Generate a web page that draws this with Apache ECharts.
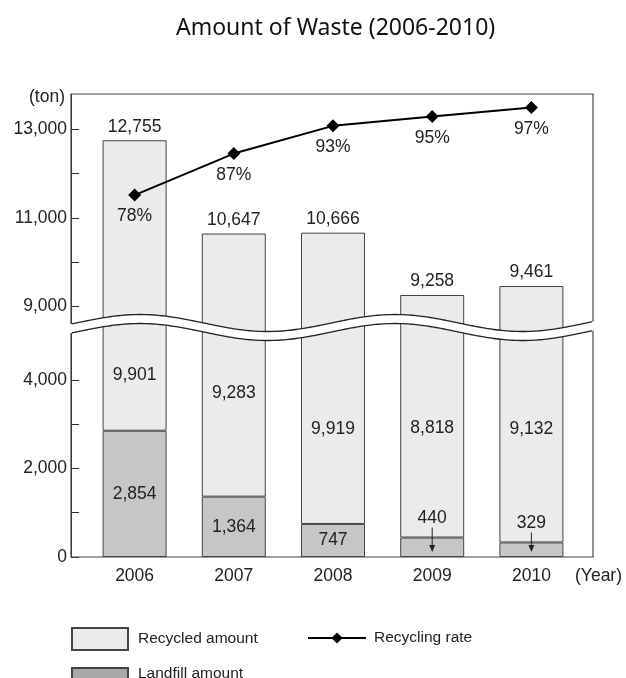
<!DOCTYPE html>
<html>
<head>
<meta charset="utf-8">
<script src="https://cdn.jsdelivr.net/npm/echarts@6/dist/echarts.min.js"></script>
<style>
html,body{margin:0;padding:0;background:#fff;}
#c{width:626px;height:678px;}
</style>
</head>
<body>
<div id="c"></div>
<script>
// ---------- data ----------
const years = ['2006', '2007', '2008', '2009', '2010'];
const recycledAmount = [9901, 9283, 9919, 8818, 9132];
const landfillAmount = [2854, 1364, 747, 440, 329];
const totalAmount = [12755, 10647, 10666, 9258, 9461];
const recyclingRate = [78, 87, 93, 95, 97];
const yTickValues = [0, 1000, 2000, 3000, 4000, 9000, 10000, 11000, 12000, 13000];
const yLabelValues = [0, 2000, 4000, 9000, 11000, 13000];

// ---------- layout / style ----------
const FONT = "'Liberation Sans', Arial, sans-serif";
const TXT = '#222';
const BREAK_START = 5186, BREAK_END = 8523;
const LANDFILL_INSIDE_MIN = 600;           // smaller landfill values get an outside label + arrow
const recycledLabelLift = [47, 94, 86, 100, 104];
const fmt = v => String(v).replace(/\B(?=(\d{3})+(?!\d))/g, ',');

const chart = echarts.init(document.getElementById('c'), null, {renderer: 'canvas', width: 626, height: 678});

const txt = (size) => ({fontFamily: FONT, fontSize: size, color: TXT, fontWeight: 'normal'});

const option = {
  animation: false,
  backgroundColor: '#fff',
  title: {
    text: 'Amount of Waste (2006-2010)',
    left: 176, top: 17, padding: 0,
    textStyle: {fontFamily: "'Noto Sans', sans-serif", fontSize: 23, fontWeight: 'normal', color: '#111'}
  },
  grid: {left: 85, right: 45, top: 94, bottom: 121, containLabel: false, outerBoundsMode: 'none'},
  legend: [
    {data: [{name: 'Recycled amount', icon: 'rect'}], left: 71, top: 627, padding: 0, itemWidth: 56, itemHeight: 22,
     selectedMode: false, textStyle: Object.assign({padding: [0, 0, 0, 5]}, txt(15.5))},
    {data: [{name: 'Landfill amount', icon: 'rect', itemStyle: {color: '#a9a9a9'}}], left: 71, top: 666, padding: 0,
     itemWidth: 56, itemHeight: 12, selectedMode: false,
     textStyle: Object.assign({padding: [0, 0, 6, 5]}, txt(15.5))},
    {data: ['Recycling rate'], left: 307, top: 630, padding: 0, itemWidth: 58, itemHeight: 14, selectedMode: false,
     textStyle: Object.assign({padding: [0, 0, 0, 3]}, txt(15.5))}
  ],
  xAxis: {
    type: 'category', data: years,
    axisLine: {show: false}, axisTick: {show: false},
    axisLabel: Object.assign({margin: 10}, txt(17.5)),
    name: '(Year)', nameLocation: 'end', nameGap: -6,
    nameTextStyle: Object.assign({verticalAlign: 'top', align: 'left', padding: [10, 0, 0, 0]}, txt(17.5))
  },
  yAxis: [
    {
      type: 'value', min: 0, max: 13800, offset: 14,
      breaks: [{start: BREAK_START, end: BREAK_END, gap: 0}],
      breakArea: {show: false, itemStyle: {opacity: 0, borderWidth: 0}},
      axisLine: {show: true, lineStyle: {color: '#333', width: 1}},
      axisTick: {show: true, inside: true, length: 8, customValues: yTickValues, lineStyle: {color: '#333'}},
      axisLabel: Object.assign({customValues: yLabelValues, margin: 4, formatter: v => fmt(v)}, txt(17.5)),
      splitLine: {show: false},
      name: '(ton)', nameLocation: 'end', nameGap: -3,
      nameTextStyle: Object.assign({align: 'right', verticalAlign: 'middle', padding: [0, 6, 0, 0]}, txt(17.5))
    },
    {type: 'value', min: -0.4, max: 99.9, show: false}
  ],
  series: [
    {
      name: 'Landfill amount', type: 'bar', stack: 'waste', barWidth: 64, z: 3,
      itemStyle: {color: '#c6c6c6', borderColor: '#444', borderWidth: 1},
      label: Object.assign({show: true, formatter: p => fmt(p.value)}, txt(17.5)),
      data: landfillAmount.map(v => ({
        value: v,
        label: v < LANDFILL_INSIDE_MIN ? {position: 'top', distance: 10} : {position: 'inside'}
      }))
    },
    {
      name: 'Recycled amount', type: 'bar', stack: 'waste', barWidth: 64, z: 2,
      itemStyle: {color: '#ebebeb', borderColor: '#444', borderWidth: 1},
      label: Object.assign({show: true, position: 'insideBottom', distance: 0, formatter: p => fmt(p.value)}, txt(17.5)),
      data: recycledAmount.map((v, i) => ({value: v, label: {offset: [0, -recycledLabelLift[i]]}}))
    },
    {
      name: 'Total', type: 'scatter', symbolSize: 1, z: 5,
      itemStyle: {color: 'rgba(0,0,0,0)', opacity: 1},
      label: Object.assign({show: true, position: 'top', distance: 4, formatter: p => fmt(p.value)}, txt(17.5)),
      data: totalAmount
    },
    {
      name: 'Recycling rate', type: 'line', yAxisIndex: 1, z: 10,
      symbol: 'diamond', symbolSize: 13,
      lineStyle: {color: '#000', width: 2},
      itemStyle: {color: '#000'},
      label: Object.assign({show: true, position: 'bottom', distance: 6, formatter: '{c}%'}, txt(17.5)),
      data: recyclingRate
    }
  ],
  graphic: [
    {type: 'rect', id: 'frame', z: 20, silent: true,
     shape: {x: 71, y: 94, width: 522, height: 463},
     style: {fill: 'none', stroke: '#444', lineWidth: 1.2}}
  ]
};

chart.setOption(option);

// ---------- decorations computed from the chart's scales ----------
const yBreak = chart.convertToPixel({yAxisIndex: 0}, BREAK_START);
const yZero = chart.convertToPixel({yAxisIndex: 0}, 0);
const xL = 71, xR = 593;
const topPts = [], botPts = [];
for (let x = xL - 1; x <= xR + 1; x += 2) {
  const w = 8.5 * Math.cos(2 * Math.PI * (x - 140) / 255);
  topPts.push([x, yBreak - 4.5 - w]);
  botPts.push([x, yBreak + 4.5 - w]);
}
const graphics = [
  {type: 'polygon', id: 'waveFill', z: 30, silent: true,
   shape: {points: topPts.concat(botPts.slice().reverse())}, style: {fill: '#fff', stroke: 'none'}},
  {type: 'polyline', id: 'waveTop', z: 31, silent: true,
   shape: {points: topPts.filter(p => p[0] >= xL && p[0] <= xR)}, style: {stroke: '#222', lineWidth: 1.3, fill: 'none'}},
  {type: 'polyline', id: 'waveBot', z: 31, silent: true,
   shape: {points: botPts.filter(p => p[0] >= xL && p[0] <= xR)}, style: {stroke: '#222', lineWidth: 1.3, fill: 'none'}}
];
landfillAmount.forEach((v, i) => {
  if (v >= LANDFILL_INSIDE_MIN) return;
  const p = chart.convertToPixel({seriesIndex: 0}, [i, v]);
  const x = p[0], y1 = p[1] - 10, y2 = yZero - 5;
  graphics.push({type: 'line', id: 'arrowLine' + i, z: 25, silent: true,
    shape: {x1: x, y1: y1, x2: x, y2: y2 - 6}, style: {stroke: '#222', lineWidth: 1}});
  graphics.push({type: 'polygon', id: 'arrowHead' + i, z: 25, silent: true,
    shape: {points: [[x - 3, y2 - 7], [x + 3, y2 - 7], [x, y2]]}, style: {fill: '#222'}});
});
chart.setOption({graphic: graphics});
</script>
</body>
</html>
